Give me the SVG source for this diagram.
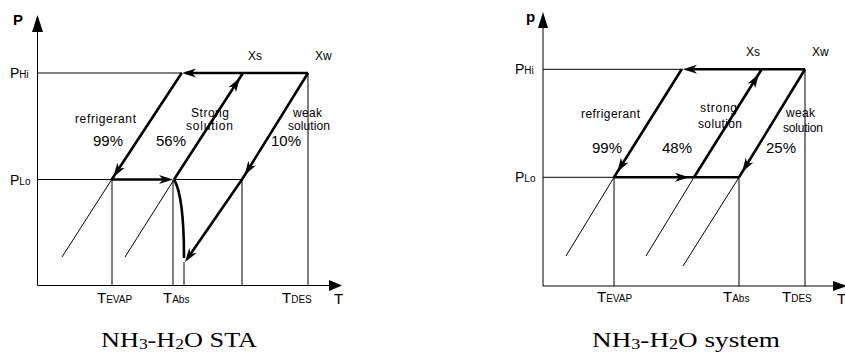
<svg xmlns="http://www.w3.org/2000/svg" width="845" height="356" viewBox="0 0 845 356">
<style>
.thin{stroke:#000;stroke-width:1;fill:none}
.thick{stroke:#000;stroke-width:2.6;fill:none}
.ah{stroke:none;fill:none;marker-end:url(#arr)}
.lbl{font-family:"Liberation Sans",Arial,sans-serif;fill:#000;font-size:12px}
.big{font-size:15px}
.sub{font-size:10px}
.cap{font-family:"Liberation Serif","Times New Roman",serif;font-size:21px;fill:#000}
</style>
<defs>
<marker id="arr" markerUnits="userSpaceOnUse" viewBox="0 0 14 10" markerWidth="14" markerHeight="10" refX="14" refY="5" orient="auto">
<path d="M0,0.5 L14,5 L0,9.5 L4,5 Z" fill="#000"/>
</marker>
</defs>
<rect width="845" height="356" fill="#fff"/>

<g id="sta">
<g id="sta-axes">
<path class="thin" d="M37.5,285.5 V31 M37.5,285.5 H330"/>
<polygon points="37.5,15 32,32 43,32" fill="#000"/>
<polygon points="342,285.5 329,280 329,291" fill="#000"/>
</g>
<g id="sta-connectors">
<path class="thin" d="M37.5,73 H182 M37.5,179.5 H112 M174,179.5 H242 M112,179.5 V285.5 M173,179.5 V285.5 M184,262 V285.5 M242,179.5 V285.5 M308,73 V285.5 M111.7,179.5 L62,257 M174,179.5 L125,257"/>
<path class="thick" d="M308,73 H186 M181.7,73 L111.7,179.5 M111.7,179.5 H168 M174,179.5 L243,73 M308,73 L242,179.5 M242,179.5 L188,257.7 M174,179.5 Q184,196 184,258"/>
<path class="ah" d="M192,73 L182,73"/>
<path class="ah" d="M118.9,168.6 L113.4,177"/>
<path class="ah" d="M163,179.5 L173,179.5"/>
<path class="ah" d="M234.4,86.4 L239.8,78"/>
<path class="ah" d="M250,166.5 L244.8,175"/>
<path class="ah" d="M190.7,253.8 L185,262"/>
</g>
<g id="sta-labels" class="lbl">
<text x="13" y="25" class="big" font-weight="bold">P</text>
<text x="10" y="78"><tspan font-size="14">P</tspan><tspan class="sub">Hi</tspan></text>
<text x="10" y="185"><tspan font-size="14">P</tspan><tspan class="sub">Lo</tspan></text>
<text x="248" y="60">Xs</text>
<text x="315" y="60">Xw</text>
<text x="75" y="123" textLength="61">refrigerant</text>
<text x="93" y="146" class="big">99%</text>
<text x="191" y="117" textLength="38">Strong</text>
<text x="186" y="130" textLength="47">solution</text>
<text x="156" y="146" class="big">56%</text>
<text x="293" y="117" textLength="29">weak</text>
<text x="288" y="130" textLength="42">solution</text>
<text x="271" y="146" class="big">10%</text>
<text x="97" y="303"><tspan class="big">T</tspan><tspan class="sub">EVAP</tspan></text>
<text x="163" y="303"><tspan class="big">T</tspan><tspan class="sub">Abs</tspan></text>
<text x="282" y="303"><tspan class="big">T</tspan><tspan class="sub">DES</tspan></text>
<text x="334" y="304" class="big">T</text>
</g>
<text class="cap" x="101" y="347" textLength="156" lengthAdjust="spacingAndGlyphs">NH<tspan font-size="14" dy="2">3</tspan><tspan dy="-2">-H</tspan><tspan font-size="14" dy="2">2</tspan><tspan dy="-2">O  STA</tspan></text>
</g>

<g id="system">
<g id="sys-axes">
<path class="thin" d="M543,286 V27 M543,286 H834"/>
<polygon points="543,12 538,28 548,28" fill="#000"/>
<polygon points="847,286 833,281 833,291" fill="#000"/>
</g>
<g id="sys-connectors">
<path class="thin" d="M543,69.3 H683 M543,177.3 H614 M614,177.3 V286 M739,177.3 V286 M805,69.3 V286 M614,177.3 L566,256 M694,177.3 L646,256 M739,177.3 L683,266"/>
<path class="thick" d="M805,69.3 H687 M681.7,69.3 L614,177.3 M614,177.3 H739 M694,177.3 L761.7,69.3 M805,69.3 L739,177.3"/>
<path class="ah" d="M693,69.3 L683,69.3"/>
<path class="ah" d="M622.6,163.5 L617.3,172"/>
<path class="ah" d="M679,177.3 L689,177.3"/>
<path class="ah" d="M753.5,82.5 L758.8,74"/>
<path class="ah" d="M747.4,163.5 L742.2,172"/>
</g>
<g id="sys-labels" class="lbl">
<text x="526" y="22" class="big" font-weight="bold">p</text>
<text x="515" y="74"><tspan font-size="14">P</tspan><tspan class="sub">Hi</tspan></text>
<text x="515" y="182"><tspan font-size="14">P</tspan><tspan class="sub">Lo</tspan></text>
<text x="746" y="56">Xs</text>
<text x="812" y="56">Xw</text>
<text x="581" y="118" textLength="59">refrigerant</text>
<text x="592" y="153" class="big">99%</text>
<text x="700" y="112" textLength="37">strong</text>
<text x="698" y="128" textLength="44">solution</text>
<text x="662" y="153" class="big">48%</text>
<text x="786" y="117" textLength="29">weak</text>
<text x="783" y="132" textLength="40">solution</text>
<text x="766" y="153" class="big">25%</text>
<text x="597" y="302"><tspan class="big">T</tspan><tspan class="sub">EVAP</tspan></text>
<text x="723" y="302"><tspan class="big">T</tspan><tspan class="sub">Abs</tspan></text>
<text x="782" y="302"><tspan class="big">T</tspan><tspan class="sub">DES</tspan></text>
<text x="837" y="304" class="big">T</text>
</g>
<text class="cap" x="592" y="347" textLength="188" lengthAdjust="spacingAndGlyphs">NH<tspan font-size="14" dy="2">3</tspan><tspan dy="-2">-H</tspan><tspan font-size="14" dy="2">2</tspan><tspan dy="-2">O  system</tspan></text>
</g>
</svg>
